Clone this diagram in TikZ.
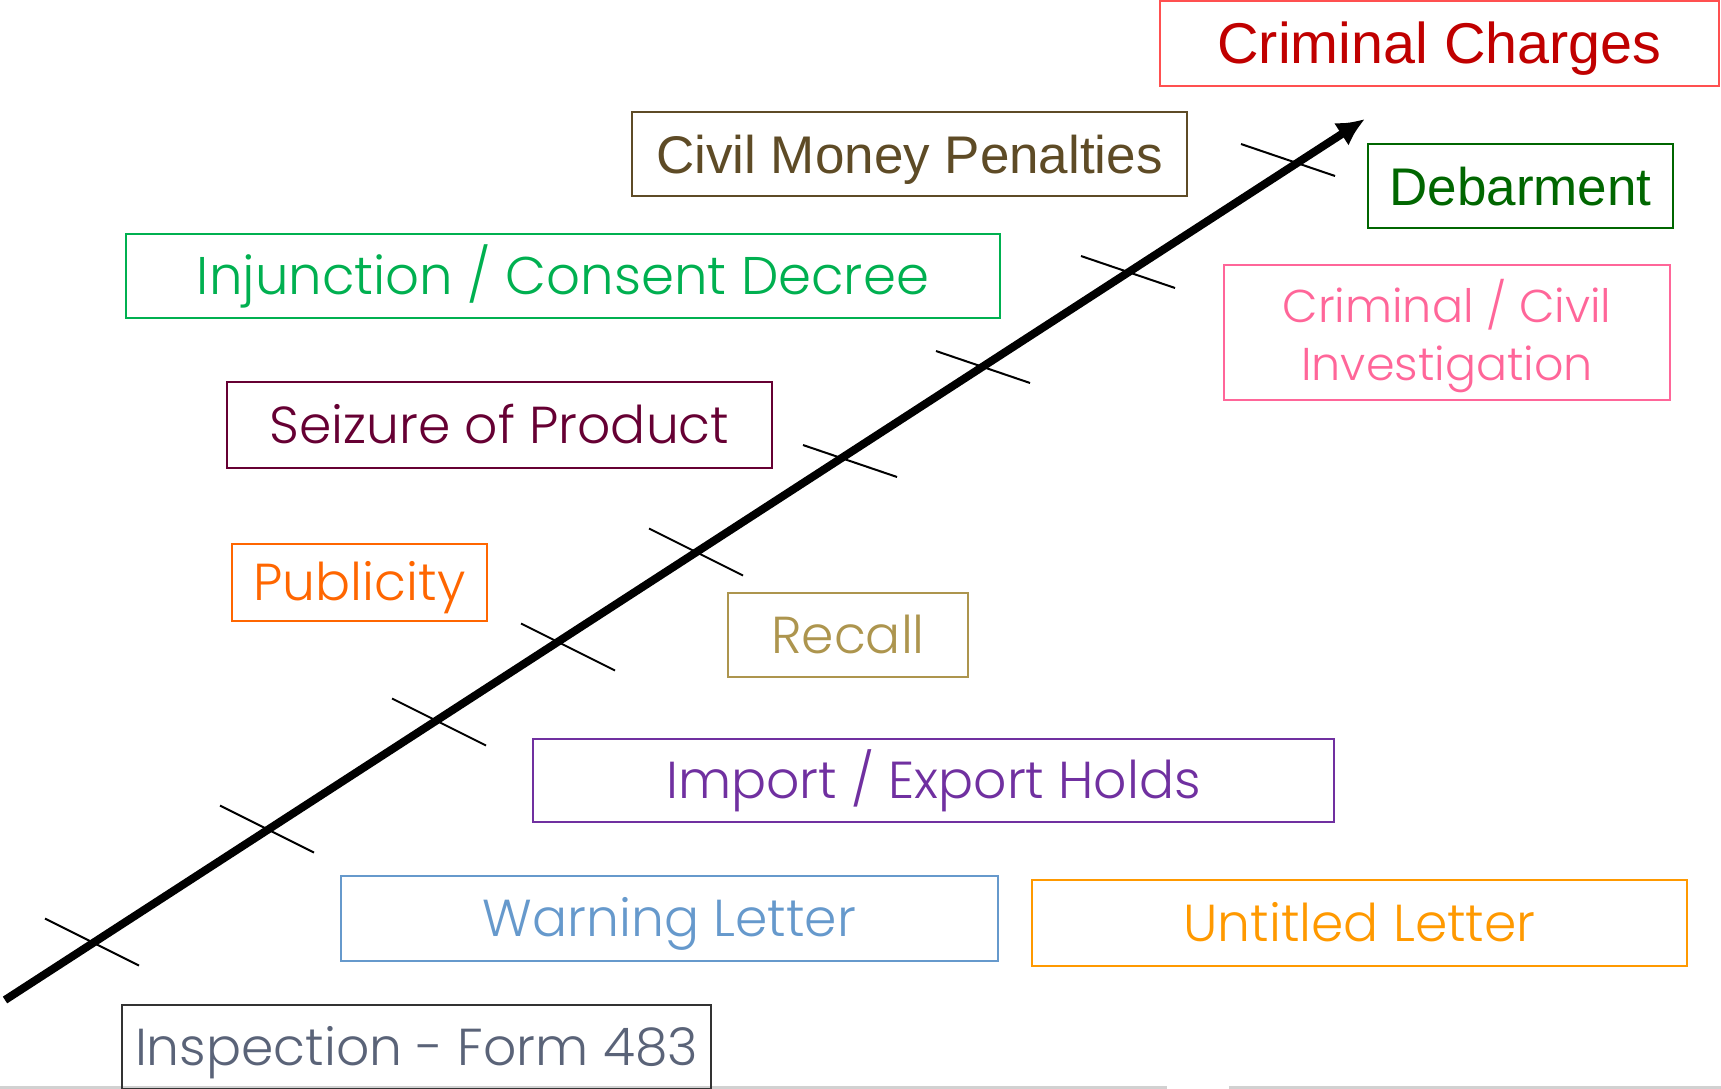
\documentclass[tikz,border=0pt]{standalone}
\usepackage{fontspec}
\setmainfont{Poppins Light}
\newfontfamily\arialfont{Liberation Sans}
\usetikzlibrary{arrows.meta,calc}

\definecolor{chargered}{HTML}{C00000}
\definecolor{chargeframe}{HTML}{FF5050}
\definecolor{penaltybrown}{HTML}{5E4B26}
\definecolor{debargreen}{HTML}{006600}
\definecolor{decreegreen}{HTML}{00B050}
\definecolor{probepink}{HTML}{FF6699}
\definecolor{seizemaroon}{HTML}{660033}
\definecolor{pressorange}{HTML}{FF6600}
\definecolor{recalltan}{HTML}{AD954E}
\definecolor{holdpurple}{HTML}{7030A0}
\definecolor{warnblue}{HTML}{6699CC}
\definecolor{letterorange}{HTML}{FF9900}
\definecolor{formslate}{HTML}{5A6378}
\definecolor{formframe}{HTML}{333333}

\begin{document}
\begin{tikzpicture}[x=1pt,y=-1pt,
    stage/.style={draw=#1,text=#1,line width=1.8pt,inner sep=0pt},
    gothic/.style={font=\fontsize{52}{60}\selectfont,text height=36pt,text depth=0pt},
    arial/.style={font=\arialfont\fontsize{53}{60}\selectfont,text height=38pt,text depth=0pt},
    tick/.style={line width=2pt}]
    \useasboundingbox (0,0) rectangle (1721,1089);
    % faint edge at the foot
    \draw[line width=3pt,black!18] (0,1087.5) -- (1167,1087.5) (1229,1087.5) -- (1721,1087.5);

    % the escalation arrow and its marks
    \coordinate (start) at (5,1000);
    \coordinate (tip) at (1365,119);
    \draw[line width=8pt,-{Latex[length=28pt,width=27pt]}] (start) -- (tip);
    \foreach \x/\y/\s in {92/942/0.5,267/829/0.5,439/722/0.5,568/647/0.5,696/552/0.5,
                          850/461/0.34,983/367/0.34,1128/272/0.34,1288/160/0.34}
        \draw[tick] ($(\x,\y)-(47,{47*\s})$) -- ++(94,{94*\s});

    % actions, lowest to highest
    \node[stage=formslate,draw=formframe,gothic,minimum width=589pt,minimum height=84pt] (form) at (416.5,1047) {Inspection - Form 483};
    \node[stage=warnblue,gothic,minimum width=657pt,minimum height=85pt] (warning) at (669.5,918.5) {Warning Letter};
    \node[stage=letterorange,gothic,minimum width=655pt,minimum height=86pt] (untitled) at (1359.5,923) {Untitled Letter};
    \node[stage=holdpurple,gothic,minimum width=801pt,minimum height=83pt] (holds) at (933.5,780.5) {Import / Export Holds};
    \node[stage=recalltan,gothic,minimum width=240pt,minimum height=84pt] (recall) at (848,635) {Recall};
    \node[stage=pressorange,gothic,minimum width=255pt,minimum height=77pt] (publicity) at (359.5,582.5) {Publicity};
    \node[stage=seizemaroon,gothic,minimum width=545pt,minimum height=86pt] (seizure) at (499.5,425) {Seizure of Product};
    \node[stage=probepink,font=\fontsize{46}{58}\selectfont,text depth=6pt,align=center,minimum width=446pt,minimum height=135pt] (probe) at (1447,332.5) {Criminal / Civil\\Investigation};
    \node[stage=decreegreen,gothic,font=\fontsize{53}{60}\selectfont,minimum width=874pt,minimum height=84pt] (decree) at (563,276) {Injunction / Consent Decree};
    \node[stage=debargreen,arial,minimum width=305pt,minimum height=84pt] (debar) at (1520.5,186) {Debarment};
    \node[stage=penaltybrown,arial,minimum width=555pt,minimum height=84pt] (penalty) at (909.5,154) {Civil Money Penalties};
    \node[stage=chargered,draw=chargeframe,arial,font=\arialfont\fontsize{57.5}{60}\selectfont,text height=41pt,minimum width=559pt,minimum height=85pt] (charges) at (1439.5,43.5) {Criminal Charges};
\end{tikzpicture}
\end{document}
